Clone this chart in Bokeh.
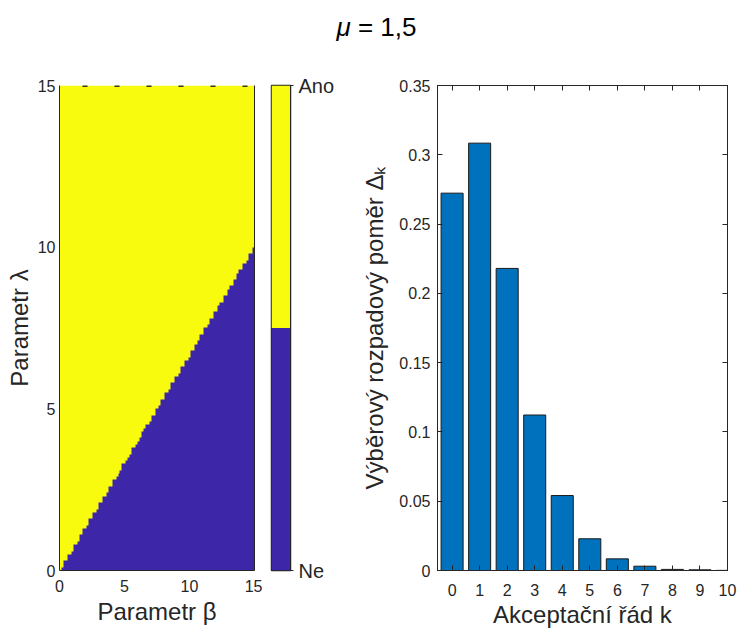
import numpy as np
from bokeh.plotting import figure
from bokeh.layouts import row, column
from bokeh.models import (Div, LinearAxis, FixedTicker, LinearColorMapper,
                          NumeralTickFormatter, Range1d)
from bokeh.embed import file_html
from bokeh.resources import INLINE

# ---------------- data ----------------
mu = 1.5
beta_range = [0.0, 15.0]
lambda_range = [0.0, 15.0]
n_beta = 100
n_lambda = 150
heat_ticks = [0, 5, 10, 15]
cbar_labels = ["Ne", "Ano"]

k_orders = [0, 1, 2, 3, 4, 5, 6, 7, 8, 9, 10]
delta_k = [0.2723, 0.3084, 0.2180, 0.1122, 0.0541, 0.0229, 0.0084,
           0.0031, 0.0008, 0.0005, 0.0001]
bar_yticks = [0, 0.05, 0.1, 0.15, 0.2, 0.25, 0.3, 0.35]

# ---------------- style ----------------
BLUE = "#3E26A8"
YELLOW = "#F9FB0E"
BAR = "#0072BD"
TXT = "#262626"
FONT = "Liberation Sans"
TICK_FS = "16px"
LAB_FS = "24px"
TOP = 35
FRAME_H = 485
BOT = 61
H = TOP + FRAME_H + BOT

# ---------------- heat map ----------------
b_edges = np.linspace(beta_range[0], beta_range[1], n_beta + 1)
l_edges = np.linspace(lambda_range[0], lambda_range[1], n_lambda + 1)
b_c = 0.5 * (b_edges[:-1] + b_edges[1:])
l_c = 0.5 * (l_edges[:-1] + l_edges[1:])
accept = (l_c[:, None] > b_c[None, :] / mu).astype(float)

p1 = figure(width=262, height=H, output_backend="svg", toolbar_location=None,
            x_range=Range1d(*beta_range), y_range=Range1d(*lambda_range),
            min_border_left=59, min_border_right=8, min_border_top=TOP,
            min_border_bottom=BOT)
p1.grid.visible = False
p1.outline_line_color = None
cmap = LinearColorMapper(palette=[BLUE, YELLOW], low=0, high=1)
p1.image(image=[accept], x=beta_range[0], y=lambda_range[0],
         dw=beta_range[1] - beta_range[0], dh=lambda_range[1] - lambda_range[0],
         color_mapper=cmap)
p1.line(x=beta_range, y=[lambda_range[1]] * 2, line_color="#333333",
        line_width=3, line_dash="5 27", line_dash_offset=9)
for ax in (p1.xaxis[0], p1.yaxis[0]):
    ax.ticker = FixedTicker(ticks=heat_ticks)
    ax.major_tick_in = 0
    ax.major_tick_out = 0
    ax.minor_tick_line_color = None
    ax.axis_line_color = TXT
    ax.major_label_text_font = FONT
    ax.major_label_text_font_size = TICK_FS
    ax.major_label_text_color = TXT
    ax.axis_label_text_font = FONT
    ax.axis_label_text_font_size = LAB_FS
    ax.axis_label_text_font_style = "normal"
    ax.axis_label_text_color = TXT
p1.xaxis[0].axis_label = "Parametr β"
p1.yaxis[0].axis_label = "Parametr λ"
p1.xaxis[0].major_label_standoff = 9
p1.xaxis[0].axis_label_standoff = 3
p1.yaxis[0].major_label_standoff = 4
p1.yaxis[0].axis_label_standoff = 2
rax = LinearAxis(ticker=FixedTicker(ticks=[]), axis_line_color=TXT,
                 major_tick_out=0, major_tick_in=0, minor_tick_line_color=None)
p1.add_layout(rax, "right")

# ---------------- colour bar ----------------
pc = figure(width=78, height=H, output_backend="svg", toolbar_location=None,
            x_range=Range1d(0, 1), y_range=Range1d(0, len(cbar_labels)),
            x_axis_location=None, y_axis_location="right",
            min_border_left=9, min_border_right=50, min_border_top=TOP,
            min_border_bottom=BOT)
pc.grid.visible = False
pc.outline_line_color = TXT
pc.outline_line_width = 1.5
idx = np.arange(len(cbar_labels))
pc.quad(left=0, right=1, bottom=idx, top=idx + 1, fill_color=[BLUE, YELLOW],
        line_color=None)
ya = pc.yaxis[0]
ya.ticker = FixedTicker(ticks=[0, len(cbar_labels)])
ya.major_label_overrides = {0: cbar_labels[0], len(cbar_labels): cbar_labels[1]}
ya.major_tick_in = 0
ya.major_tick_out = 3
ya.minor_tick_line_color = None
ya.axis_line_color = TXT
ya.major_tick_line_color = TXT
ya.major_label_text_font = FONT
ya.major_label_text_font_size = "20px"
ya.major_label_text_color = TXT
ya.major_label_standoff = 5

# ---------------- bar chart ----------------
p2 = figure(width=397, height=H, output_backend="svg", toolbar_location=None,
            x_range=Range1d(-0.53, 10.0), y_range=Range1d(0, 0.35),
            min_border_left=97, min_border_right=10, min_border_top=TOP,
            min_border_bottom=BOT)
p2.grid.visible = False
p2.outline_line_color = TXT
p2.vbar(x=k_orders, top=delta_k, width=0.8, fill_color=BAR, line_color="#1a1a1a",
        line_width=1)
p2.xaxis[0].ticker = FixedTicker(ticks=k_orders)
p2.yaxis[0].ticker = FixedTicker(ticks=bar_yticks)
p2.yaxis[0].formatter = NumeralTickFormatter(format="0.[00]")
for ax in (p2.xaxis[0], p2.yaxis[0]):
    ax.major_tick_in = 5
    ax.major_tick_out = 0
    ax.minor_tick_line_color = None
    ax.axis_line_color = TXT
    ax.major_tick_line_color = TXT
    ax.major_label_text_font = FONT
    ax.major_label_text_font_size = TICK_FS
    ax.major_label_text_color = TXT
    ax.axis_label_text_font = FONT
    ax.axis_label_text_font_size = LAB_FS
    ax.axis_label_text_font_style = "normal"
    ax.axis_label_text_color = TXT
p2.xaxis[0].axis_label = "Akceptační řád k"
p2.yaxis[0].axis_label = "Výběrový rozpadový poměr Δₖ"
p2.xaxis[0].major_label_standoff = 13
p2.xaxis[0].axis_label_standoff = 2
p2.yaxis[0].major_label_standoff = 7
p2.yaxis[0].axis_label_standoff = 8
top_ax = LinearAxis(ticker=FixedTicker(ticks=k_orders), major_tick_in=5,
                    major_tick_out=0, minor_tick_line_color=None,
                    axis_line_color=TXT, major_tick_line_color=TXT,
                    major_label_overrides={k: "" for k in k_orders},
                    major_label_standoff=0)
right_ax = LinearAxis(ticker=FixedTicker(ticks=bar_yticks), major_tick_in=5,
                      major_tick_out=0, minor_tick_line_color=None,
                      axis_line_color=TXT, major_tick_line_color=TXT,
                      major_label_text_color=None,
                      major_label_standoff=0)
p2.add_layout(top_ax, "above")
p2.add_layout(right_ax, "right")

# ---------------- title + layout ----------------
title = Div(text=('<div style="width:737px;box-sizing:border-box;padding-left:16px;'
                  'padding-top:9px;text-align:center;font-family:\'Liberation Sans\';'
                  'font-size:26px;color:#000;"><i>μ</i> = 1,5</div>'),
            width=737, height=50, margin=0)

layout = column(title, row(p1, pc, p2))
open("out.html", "w").write(file_html(layout, INLINE))
